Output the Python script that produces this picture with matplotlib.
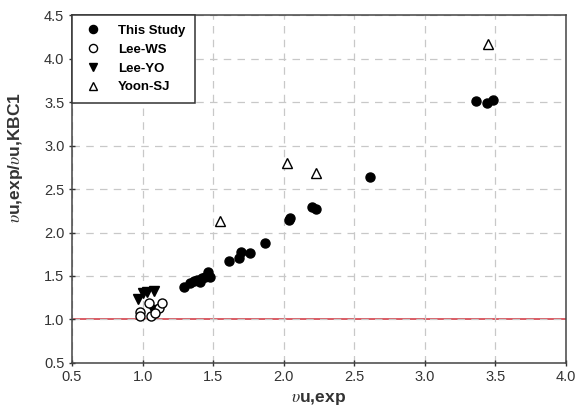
import matplotlib.pyplot as plt

# This Study (filled circles)
study_x = [1.295, 1.337, 1.361, 1.385, 1.408, 1.42, 1.443, 1.467, 1.479,
           1.616, 1.685, 1.70, 1.758, 1.867, 2.035, 2.047, 2.20, 2.23,
           2.61, 3.365, 3.44, 3.48]
study_y = [1.376, 1.415, 1.441, 1.453, 1.433, 1.472, 1.491, 1.548, 1.491,
           1.672, 1.703, 1.779, 1.76, 1.882, 2.144, 2.17, 2.29, 2.267,
           2.643, 3.515, 3.495, 3.527]

# Lee-WS (open circles)
leews_x = [0.983, 0.983, 1.058, 1.048, 1.113, 1.14, 1.089]
leews_y = [1.088, 1.038, 1.038, 1.184, 1.127, 1.184, 1.069]

# Lee-YO (filled down triangles)
leeyo_x = [0.971, 1.006, 1.03, 1.084, 1.077]
leeyo_y = [1.23, 1.30, 1.31, 1.33, 1.11]

# Yoon-SJ (open up triangles)
yoon_x = [1.546, 2.023, 2.232, 3.447]
yoon_y = [2.13, 2.80, 2.69, 4.17]

plt.rcParams['font.family'] = ['Liberation Sans', 'DejaVu Sans']
plt.rcParams['mathtext.fontset'] = 'stix'

fig = plt.figure(figsize=(5.77, 4.18), dpi=100)
ax = fig.add_axes([0.1248, 0.132, 0.856, 0.831])

ax.axhline(1.0, color='#d0303a', lw=1.1, zorder=1)

ax.plot(study_x, study_y, 'o', color='black', ms=6.5, ls='none', label='This Study', zorder=3)
ax.plot(leews_x, leews_y, 'o', mfc='white', mec='black', mew=1.0, ms=6.5, ls='none', label='Lee-WS', zorder=4)
ax.plot(leeyo_x, leeyo_y, 'v', color='black', ms=6.5, ls='none', label='Lee-YO', zorder=3)
ax.plot(yoon_x, yoon_y, '^', mfc='white', mec='black', mew=1.0, ms=6.5, ls='none', label='Yoon-SJ', zorder=3)

ax.set_xlim(0.5, 4.0)
ax.set_ylim(0.5, 4.5)
ax.set_xticks([0.5, 1.0, 1.5, 2.0, 2.5, 3.0, 3.5, 4.0])
ax.set_yticks([0.5, 1.0, 1.5, 2.0, 2.5, 3.0, 3.5, 4.0, 4.5])
ax.xaxis.set_major_formatter(plt.FormatStrFormatter('%.1f'))
ax.yaxis.set_major_formatter(plt.FormatStrFormatter('%.1f'))
ax.grid(True, ls=(0, (6, 5)), color='#c8c8c8', lw=0.9, zorder=0)
ax.tick_params(labelsize=10.5, colors='#333333', length=4, direction='inout', width=1)
for s in ax.spines.values():
    s.set_color('#444444')
    s.set_linewidth(1.1)

ax.set_xlabel(r'$\mathit{\upsilon}$u,exp', fontsize=12.5, fontweight='bold', color='#333333', labelpad=5)
ax.set_ylabel(r'$\mathit{\upsilon}$u,exp/$\mathit{\upsilon}$u,KBC1', fontsize=12.5, fontweight='bold',
              color='#333333', labelpad=8)
ax.yaxis.set_label_coords(-0.095, 0.59)

leg = ax.legend(loc='upper left', bbox_to_anchor=(0.0, 1.0), borderaxespad=0, fancybox=False,
                frameon=True, edgecolor='#333333', framealpha=1, prop={'weight': 'bold', 'size': 9.5},
                handletextpad=1.0, borderpad=0.7, labelspacing=0.5, markerscale=0.9,
                handlelength=1.8)
leg.get_frame().set_linewidth(1.1)

fig.savefig('out.png', dpi=100)
